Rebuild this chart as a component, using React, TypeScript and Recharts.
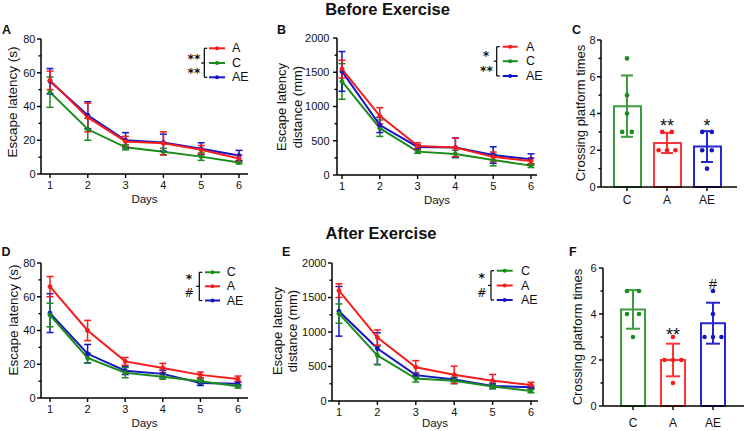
import React from 'react';
import { LineChart, Line, XAxis, YAxis, ErrorBar, ComposedChart, Bar, Cell, Scatter } from 'recharts';

// ---------- shared ----------
const days = [1, 2, 3, 4, 5, 6];
const RED = '#F51C1C';
const GREEN = '#1A8C1A';
const BLUE = '#1515C8';
const BAR_RED = '#FF3434';
const BAR_GREEN = '#3C9C3C';
const BAR_BLUE = '#2626CF';

// ---------- Panel A: escape latency (s), before exercise ----------
const aC = [48.5, 26.5, 15.8, 13.2, 10.3, 6.8];
const aCErr = [9, 6.5, 1.5, 2, 2.2, 0.8];
const aA = [55.5, 33.5, 19.3, 18.2, 14.4, 9.2];
const aAErr = [5.5, 8.5, 3, 6.8, 2.5, 2];
const aAE = [55, 34.8, 20, 18.6, 15, 11];
const aAEErr = [7.5, 8, 4.5, 5, 3.5, 3];

// ---------- Panel B: escape latency distance (mm), before exercise ----------
const bC = [1366, 683, 341, 307, 218, 137];
const bCErr = [260, 120, 25, 55, 85, 28];
const bA = [1546, 863, 425, 402, 265, 205];
const bAErr = [130, 120, 45, 135, 70, 45];
const bAE = [1512, 730, 410, 400, 292, 229];
const bAEErr = [290, 110, 30, 140, 120, 80];

// ---------- Panel C: crossing platform times, before exercise ----------
const cGroups = ['C', 'A', 'AE'];
const cMeans = [4.4, 2.4, 2.2];
const cSD = [1.67, 0.55, 0.84];
const cPtsC = [7, 5, 4, 3, 3];
const cPtsA = [3, 3, 2, 2, 2];
const cPtsAE = [3, 3, 2, 2, 1];
const cJitC = [0, 0, 0, -0.12, 0.12];
const cJitA = [-0.12, 0.12, -0.21, 0, 0.21];
const cJitAE = [-0.12, 0.12, -0.12, 0.12, 0];

// ---------- Panel D: escape latency (s), after exercise ----------
const dC = [49.2, 23.7, 15, 12.6, 9.9, 6.9];
const dCErr = [7, 2.8, 3, 1.5, 1.5, 1];
const dA = [66, 40, 21.7, 17.8, 13.7, 11.2];
const dAErr = [6, 6, 2.3, 2.7, 1.7, 1.8];
const dAE = [50.3, 26.2, 16.2, 14.3, 8.9, 8.5];
const dAEErr = [11.5, 5.5, 2.3, 2.2, 1.5, 1.3];

// ---------- Panel E: escape latency distance (mm), after exercise ----------
const eC = [1267, 660, 325, 295, 210, 145];
const eCErr = [140, 135, 50, 45, 30, 25];
const eA = [1600, 920, 490, 380, 295, 232];
const eAErr = [100, 110, 95, 125, 90, 40];
const eAE = [1300, 760, 375, 312, 218, 198];
const eAEErr = [360, 230, 30, 30, 40, 20];

// ---------- Panel F: crossing platform times, after exercise ----------
const fGroups = ['C', 'A', 'AE'];
const fMeans = [4.2, 2.0, 3.6];
const fSD = [0.84, 0.71, 0.89];
const fPtsC = [5, 5, 4, 4, 3];
const fPtsA = [3, 2, 2, 2, 1];
const fPtsAE = [5, 4, 3, 3, 3];
const fJitC = [-0.15, 0.15, -0.15, 0.15, 0];
const fJitA = [0, -0.21, 0, 0.21, 0];
const fJitAE = [0, 0, -0.21, 0, 0.21];

// ---------- axis ticks ----------
const latMajors = [0, 20, 40, 60, 80];
const latMinors = [10, 30, 50, 70];
const distMajors = [0, 500, 1000, 1500, 2000];
const distMinors = [250, 750, 1250, 1750];
const cMajors = [0, 2, 4, 6, 8];
const cMinors = [1, 3, 5, 7];
const fMajors = [0, 2, 4, 6];
const fMinors = [1, 3, 5];

const FONT = '"Liberation Sans", Arial, Helvetica, sans-serif';
const MARK_FONT = '"DejaVu Sans", "Liberation Sans", sans-serif';

type Series = { name: string; color: string; vals: number[]; errs: number[] };

const makeYTick = (majors: number[], gap: number) => (props: any) => {
  const { x, y, payload } = props;
  const isMajor = majors.includes(payload.value);
  const len = isMajor ? 4 : 2.5;
  return (
    <g>
      <line x1={x - len} x2={x} y1={y} y2={y} stroke="#000" strokeWidth={1.4} />
      {isMajor && (
        <text x={x - len - gap} y={y} dy="0.36em" textAnchor="end" fontSize={11} fill="#111" fontFamily={FONT}>
          {payload.value}
        </text>
      )}
    </g>
  );
};

const ML = 46;
const MT = 8;
const MR = 4;
const XH = 26;

function LinePanel(props: {
  plot: [number, number, number, number];
  yMax: number;
  majors: number[];
  minors: number[];
  xDomain: [number, number];
  series: Series[];
  gap: number;
}) {
  const { plot, yMax, majors, minors, xDomain, series, gap } = props;
  const [l, t, r, b] = plot;
  const width = r - l + ML + MR;
  const height = b - t + MT + XH;
  const data = days.map((d, i) => {
    const row: any = { day: d };
    series.forEach((s) => {
      row[s.name] = s.vals[i];
      row[s.name + '_e'] = s.errs[i];
    });
    return row;
  });
  const allTicks = [...majors, ...minors].sort((p, q) => p - q);
  return (
    <div style={{ position: 'absolute', left: l - ML, top: t - MT }}>
      <LineChart width={width} height={height} data={data} margin={{ top: MT, right: MR, bottom: 0, left: 0 }}>
        <XAxis
          dataKey="day"
          type="number"
          domain={xDomain}
          ticks={days}
          interval={0}
          height={XH}
          axisLine={{ stroke: '#000', strokeWidth: 1.5 }}
          tickLine={{ stroke: '#000', strokeWidth: 1.4 }}
          tickSize={4}
          tickMargin={3}
          tick={{ fontSize: 11, fill: '#111', fontFamily: FONT }}
        />
        <YAxis
          width={ML}
          type="number"
          domain={[0, yMax]}
          ticks={allTicks}
          interval={0}
          tickSize={0}
          tickMargin={0}
          tickLine={false}
          axisLine={{ stroke: '#000', strokeWidth: 1.5 }}
          tick={makeYTick(majors, gap)}
        />
        {series.map((s) => (
          <Line
            key={s.name}
            dataKey={s.name}
            stroke={s.color}
            strokeWidth={2}
            dot={{ r: 2, fill: s.color, stroke: s.color, strokeWidth: 1 }}
            activeDot={false}
            isAnimationActive={false}
          >
            <ErrorBar dataKey={s.name + '_e'} direction="y" width={3.5} stroke={s.color} strokeWidth={1.5} />
          </Line>
        ))}
      </LineChart>
    </div>
  );
}

type Group = { name: string; mean: number; sd: number; pts: number[]; jit: number[]; color: string; barColor: string };

function BarPanel(props: {
  plot: [number, number, number, number];
  yMax: number;
  majors: number[];
  minors: number[];
  groups: Group[];
  pad: [number, number];
  numDomain: [number, number];
  barSize: number;
  capW: number;
  gap: number;
  tickMargin: number;
}) {
  const { plot, yMax, majors, minors, groups, pad, numDomain, barSize, capW, gap, tickMargin } = props;
  const [l, t, r, b] = plot;
  const width = r - l + ML + MR;
  const height = b - t + MT + XH;
  const data = groups.map((g) => ({ name: g.name, mean: g.mean }));
  const allTicks = [...majors, ...minors].sort((p, q) => p - q);
  return (
    <div style={{ position: 'absolute', left: l - ML, top: t - MT }}>
      <ComposedChart width={width} height={height} data={data} margin={{ top: MT, right: MR, bottom: 0, left: 0 }}>
        <XAxis
          xAxisId="c"
          dataKey="name"
          type="category"
          padding={{ left: pad[0], right: pad[1] }}
          height={XH}
          axisLine={{ stroke: '#000', strokeWidth: 1.5 }}
          tickLine={{ stroke: '#000', strokeWidth: 1.4 }}
          tickSize={4}
          tickMargin={tickMargin}
          tick={{ fontSize: 12, fill: '#111', fontFamily: FONT }}
        />
        <XAxis xAxisId="p" dataKey="x" type="number" domain={numDomain} hide allowDataOverflow />
        <YAxis
          width={ML}
          type="number"
          domain={[0, yMax]}
          ticks={allTicks}
          interval={0}
          tickSize={0}
          tickMargin={0}
          tickLine={false}
          axisLine={{ stroke: '#000', strokeWidth: 1.5 }}
          tick={makeYTick(majors, gap)}
        />
        <Bar xAxisId="c" dataKey="mean" barSize={barSize} isAnimationActive={false}>
          {groups.map((g) => (
            <Cell key={g.name} fill="#fff" stroke={g.barColor} strokeWidth={2} />
          ))}
        </Bar>
        {groups.map((g, i) => (
          <Scatter
            key={'sd' + g.name}
            xAxisId="p"
            data={[{ x: i + 1, y: g.mean, sd: g.sd }]}
            dataKey="y"
            shape={() => <g />}
            isAnimationActive={false}
          >
            <ErrorBar dataKey="sd" direction="y" width={capW} stroke={g.barColor} strokeWidth={2} />
          </Scatter>
        ))}
        {groups.map((g, i) => (
          <Scatter
            key={'pt' + g.name}
            xAxisId="p"
            data={g.pts.map((v, k) => ({ x: i + 1 + g.jit[k], y: v }))}
            dataKey="y"
            shape={(p: any) => <circle cx={p.cx} cy={p.cy} r={2.3} fill={g.color} />}
            isAnimationActive={false}
          />
        ))}
      </ComposedChart>
    </div>
  );
}

// single significance mark above a bar
function Mark({ text, x, y }: { text: string; x: number; y: number }) {
  const star = text.includes('*');
  const fs = star ? 18 : 15;
  const base = star ? y + 0.57 * fs : y + 0.36 * fs;
  return (
    <text x={x} y={base} textAnchor="middle" fontSize={fs} fill="#111" fontFamily={FONT}>
      {text}
    </text>
  );
}

// compact legend mark (next to the bracket)
function LegMark({ text, x, y }: { text: string; x: number; y: number }) {
  const star = text.includes('*');
  const fs = star ? 12.3 : 11.5;
  const base = star ? y + 0.59 * fs : y + 0.36 * fs;
  return (
    <text x={x} y={base} textAnchor="middle" fontSize={fs} fontWeight={star ? 700 : 400} fill="#111" fontFamily={MARK_FONT}>
      {text}
    </text>
  );
}

function Bracket(props: {
  bx: number;
  rows: number[];
  x1: number;
  x2: number;
  tx: number;
  items: { label: string; color: string }[];
  marks: { text: string; x: number; y: number }[];
}) {
  const { bx, rows, x1, x2, tx, items, marks } = props;
  const mid = (x1 + x2) / 2;
  return (
    <g>
      <line x1={bx} x2={bx} y1={rows[0]} y2={rows[2]} stroke="#000" strokeWidth={1.2} />
      <line x1={bx} x2={bx + 3} y1={rows[0]} y2={rows[0]} stroke="#000" strokeWidth={1.2} />
      <line x1={bx} x2={bx + 3} y1={rows[2]} y2={rows[2]} stroke="#000" strokeWidth={1.2} />
      <line x1={bx - 3} x2={bx} y1={rows[1]} y2={rows[1]} stroke="#000" strokeWidth={1.2} />
      {items.map((it, i) => (
        <g key={it.label}>
          <line x1={x1} x2={x2} y1={rows[i]} y2={rows[i]} stroke={it.color} strokeWidth={2} />
          <circle cx={mid} cy={rows[i]} r={2} fill={it.color} />
          <text x={tx} y={rows[i]} dominantBaseline="central" fontSize={12.5} fill="#111" fontFamily={FONT}>
            {it.label}
          </text>
        </g>
      ))}
      {marks.map((m, i) => (
        <LegMark key={i} text={m.text} x={m.x} y={m.y} />
      ))}
    </g>
  );
}

function VLabel({ x, y, text, size }: { x: number; y: number; text: string; size: number }) {
  return (
    <text
      transform={`translate(${x},${y}) rotate(-90)`}
      textAnchor="middle"
      dominantBaseline="central"
      fontSize={size}
      fill="#111"
      fontFamily={FONT}
    >
      {text}
    </text>
  );
}

function HLabel({ x, y, text, size, bold }: { x: number; y: number; text: string; size: number; bold?: boolean }) {
  return (
    <text x={x} y={y} textAnchor="middle" dominantBaseline="central" fontSize={size} fontWeight={bold ? 700 : 400} fill="#111" fontFamily={FONT}>
      {text}
    </text>
  );
}

function Letter({ x, y, text }: { x: number; y: number; text: string }) {
  return (
    <text x={x} y={y} fontSize={12.5} fontWeight={700} fill="#111" fontFamily={FONT}>
      {text}
    </text>
  );
}

export default function App() {
  const beforeLat: Series[] = [
    { name: 'C', color: GREEN, vals: aC, errs: aCErr },
    { name: 'AE', color: BLUE, vals: aAE, errs: aAEErr },
    { name: 'A', color: RED, vals: aA, errs: aAErr },
  ];
  const beforeDist: Series[] = [
    { name: 'C', color: GREEN, vals: bC, errs: bCErr },
    { name: 'AE', color: BLUE, vals: bAE, errs: bAEErr },
    { name: 'A', color: RED, vals: bA, errs: bAErr },
  ];
  const afterLat: Series[] = [
    { name: 'AE', color: BLUE, vals: dAE, errs: dAEErr },
    { name: 'C', color: GREEN, vals: dC, errs: dCErr },
    { name: 'A', color: RED, vals: dA, errs: dAErr },
  ];
  const afterDist: Series[] = [
    { name: 'AE', color: BLUE, vals: eAE, errs: eAEErr },
    { name: 'C', color: GREEN, vals: eC, errs: eCErr },
    { name: 'A', color: RED, vals: eA, errs: eAErr },
  ];
  const colors = [GREEN, RED, BLUE];
  const barColors = [BAR_GREEN, BAR_RED, BAR_BLUE];
  const cPts = [cPtsC, cPtsA, cPtsAE];
  const cJit = [cJitC, cJitA, cJitAE];
  const fPts = [fPtsC, fPtsA, fPtsAE];
  const fJit = [fJitC, fJitA, fJitAE];
  const beforeGroups: Group[] = cGroups.map((n, i) => ({
    name: n, mean: cMeans[i], sd: cSD[i], pts: cPts[i], jit: cJit[i], color: colors[i], barColor: barColors[i],
  }));
  const afterGroups: Group[] = fGroups.map((n, i) => ({
    name: n, mean: fMeans[i], sd: fSD[i], pts: fPts[i], jit: fJit[i], color: colors[i], barColor: barColors[i],
  }));

  return (
    <div
      style={{
        position: 'absolute',
        left: 0,
        top: 0,
        width: 744,
        height: 431,
        overflow: 'hidden',
        background: '#fff',
        fontFamily: FONT,
      }}
    >
      <LinePanel plot={[41, 39, 248, 174]} yMax={80} majors={latMajors} minors={latMinors} xDomain={[0.762, 6.238]} series={beforeLat} gap={1.5} />
      <LinePanel plot={[337, 38, 537, 175]} yMax={2000} majors={distMajors} minors={distMinors} xDomain={[0.868, 6.159]} series={beforeDist} gap={3.5} />
      <BarPanel plot={[601, 40, 737, 187]} yMax={8} majors={cMajors} minors={cMinors} groups={beforeGroups} pad={[6, 10]} numDomain={[0.35, 3.75]} barSize={27} capW={6} gap={1.5} tickMargin={4} />
      <LinePanel plot={[41, 263, 248, 398]} yMax={80} majors={latMajors} minors={latMinors} xDomain={[0.761, 6.266]} series={afterLat} gap={1.5} />
      <LinePanel plot={[332, 263, 538, 401]} yMax={2000} majors={distMajors} minors={distMinors} xDomain={[0.818, 6.182]} series={afterDist} gap={1.5} />
      <BarPanel plot={[603, 268, 744, 406]} yMax={6} majors={fMajors} minors={fMinors} groups={afterGroups} pad={[10, 11]} numDomain={[0.25, 3.775]} barSize={24} capW={7} gap={2.5} tickMargin={8} />

      <svg width={744} height={431} style={{ position: 'absolute', left: 0, top: 0, pointerEvents: 'none' }}>
        <HLabel x={387.5} y={8.5} text="Before Exercise" size={16.5} bold />
        <HLabel x={381} y={232.5} text="After Exercise" size={16.5} bold />

        <Letter x={2} y={34} text="A" />
        <Letter x={277} y={34} text="B" />
        <Letter x={572} y={34} text="C" />
        <Letter x={1.5} y={256} text="D" />
        <Letter x={282} y={256} text="E" />
        <Letter x={569} y={256} text="F" />

        <VLabel x={12} y={102} text="Escape latency (s)" size={13.5} />
        <VLabel x={281} y={107} text="Escape latency" size={13} />
        <VLabel x={297} y={107} text="distance (mm)" size={13} />
        <VLabel x={580} y={113} text="Crossing platform times" size={13} />
        <VLabel x={13} y={320} text="Escape latency (s)" size={13.5} />
        <VLabel x={277.5} y={331} text="Escape latency" size={13} />
        <VLabel x={292.5} y={331} text="distance (mm)" size={13} />
        <VLabel x={577} y={337} text="Crossing platform times" size={13} />

        <HLabel x={144.5} y={199} text="Days" size={11.5} />
        <HLabel x={437} y={199.5} text="Days" size={11.5} />
        <HLabel x={144.5} y={423} text="Days" size={11.5} />
        <HLabel x={435} y={423} text="Days" size={11.5} />

        <Bracket
          bx={204.3}
          rows={[48.3, 63, 77.3]}
          x1={209}
          x2={225}
          tx={232}
          items={[{ label: 'A', color: RED }, { label: 'C', color: GREEN }, { label: 'AE', color: BLUE }]}
          marks={[{ text: '**', x: 194, y: 55.5 }, { text: '**', x: 194, y: 70 }]}
        />
        <Bracket
          bx={496.7}
          rows={[46.7, 61.2, 76]}
          x1={502.7}
          x2={517.7}
          tx={526}
          items={[{ label: 'A', color: RED }, { label: 'C', color: GREEN }, { label: 'AE', color: BLUE }]}
          marks={[{ text: '*', x: 486, y: 53 }, { text: '**', x: 486.5, y: 68 }]}
        />
        <Bracket
          bx={199.3}
          rows={[272.3, 286.3, 300.5]}
          x1={205}
          x2={220}
          tx={226.7}
          items={[{ label: 'C', color: GREEN }, { label: 'A', color: RED }, { label: 'AE', color: BLUE }]}
          marks={[{ text: '*', x: 189, y: 275.5 }, { text: '#', x: 189, y: 293 }]}
        />
        <Bracket
          bx={491}
          rows={[270.7, 285.5, 300]}
          x1={496.7}
          x2={512.7}
          tx={521}
          items={[{ label: 'C', color: GREEN }, { label: 'A', color: RED }, { label: 'AE', color: BLUE }]}
          marks={[{ text: '*', x: 481.7, y: 275 }, { text: '#', x: 481.7, y: 293 }]}
        />

        <Mark text="**" x={667} y={122} />
        <Mark text="*" x={707} y={122} />
        <Mark text="**" x={673} y={331} />
        <Mark text="#" x={713} y={284} />
      </svg>
    </div>
  );
}
